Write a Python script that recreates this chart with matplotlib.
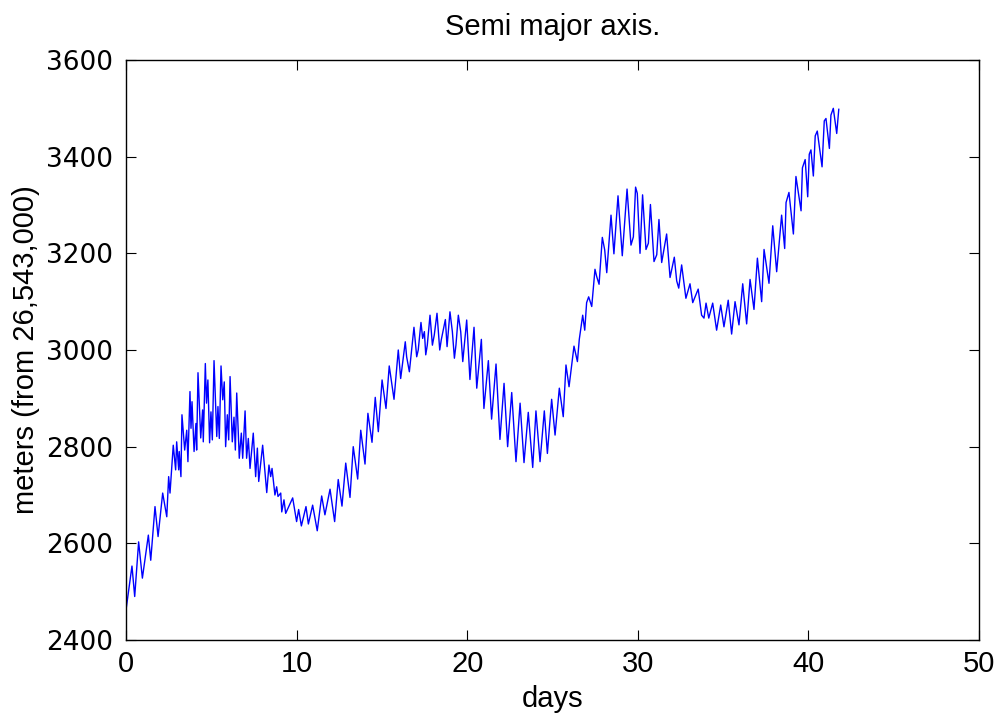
import matplotlib
matplotlib.use("Agg")
import matplotlib.pyplot as plt

# Turning points of the trace (days, meters from 26,543,000)
days_a = [0.00, 0.35, 0.51, 0.74, 0.96, 1.31, 1.45, 1.70, 1.88, 2.15,
          2.39, 2.50, 2.58, 2.77, 2.91, 2.97, 3.09, 3.12, 3.22, 3.28,
          3.44, 3.56, 3.63, 3.75, 3.81, 3.87, 3.99, 4.10, 4.14, 4.22,
          4.38, 4.49, 4.53, 4.65, 4.72, 4.80, 4.90, 4.98, 5.06, 5.16,
          5.32, 5.39, 5.47, 5.57, 5.67, 5.76, 5.84, 5.94, 6.02, 6.10,
          6.23, 6.33, 6.41, 6.49, 6.64, 6.76, 6.84, 6.98, 7.07, 7.17,
          7.27, 7.46, 7.60, 7.70, 7.78, 8.01, 8.25, 8.38, 8.48, 8.56,
          8.73, 8.83, 8.91, 9.07, 9.13, 9.26, 9.36, 9.77, 10.00]
vals_a = [2462, 2553, 2490, 2603, 2528, 2617, 2565, 2676, 2614, 2704,
          2655, 2738, 2704, 2803, 2752, 2810, 2752, 2790, 2738, 2866,
          2793, 2834, 2769, 2914, 2838, 2893, 2790, 2848, 2793, 2953,
          2818, 2876, 2810, 2972, 2890, 2938, 2808, 2872, 2814, 2978,
          2821, 2883, 2817, 2967, 2897, 2934, 2800, 2866, 2814, 2945,
          2810, 2861, 2793, 2911, 2776, 2828, 2776, 2874, 2776, 2817,
          2755, 2828, 2738, 2797, 2728, 2803, 2705, 2762, 2738, 2755,
          2700, 2717, 2697, 2704, 2665, 2690, 2662, 2694, 2645]

days_b = [10.12, 10.28, 10.55, 10.69, 10.94, 11.21, 11.47, 11.66, 11.96, 12.23,
          12.44, 12.66, 12.88, 13.13, 13.32, 13.58, 13.76, 14.01, 14.18, 14.42,
          14.61, 14.79, 15.01, 15.24, 15.43, 15.71, 15.96, 16.10, 16.37, 16.45,
          16.61, 16.88, 17.04, 17.13, 17.29, 17.39, 17.49, 17.57, 17.66, 17.82,
          17.96, 18.07, 18.23, 18.39, 18.48, 18.72, 18.82, 18.99, 19.13, 19.25,
          19.34, 19.48, 19.62, 19.74, 19.97]
vals_b = [2670, 2636, 2676, 2640, 2679, 2626, 2698, 2659, 2712, 2645,
          2732, 2677, 2766, 2695, 2800, 2733, 2834, 2764, 2869, 2809,
          2902, 2831, 2938, 2879, 2967, 2898, 3000, 2941, 3017, 2986,
          2955, 3047, 2986, 3000, 3057, 3024, 3038, 2990, 3010, 3072,
          3010, 3031, 3076, 3000, 3021, 3063, 3007, 3079, 3038, 2983,
          3010, 3072, 3038, 2976, 3062]

days_c = [20.16, 20.40, 20.56, 20.83, 20.98, 21.24, 21.43, 21.69, 21.92, 22.16,
          22.37, 22.61, 22.86, 23.10, 23.33, 23.58, 23.84, 24.03, 24.27, 24.52,
          24.70, 24.95, 25.15, 25.40, 25.63, 25.79, 25.97, 26.10, 26.26, 26.46,
          26.57, 26.77, 26.89, 27.00, 27.12, 27.30, 27.49, 27.59, 27.73, 27.92,
          28.06, 28.18, 28.43, 28.60, 28.84, 29.09, 29.37, 29.60, 29.74, 29.87,
          29.97]
vals_c = [2939, 3047, 2921, 3022, 2879, 2978, 2857, 2971, 2815, 2931,
          2800, 2912, 2769, 2890, 2767, 2871, 2757, 2874, 2769, 2874,
          2786, 2898, 2824, 2921, 2862, 2969, 2924, 2962, 3008, 2976,
          3022, 3072, 3041, 3098, 3110, 3090, 3167, 3152, 3136, 3233,
          3207, 3160, 3279, 3199, 3319, 3195, 3333, 3217, 3234, 3337,
          3324]

days_d = [30.13, 30.28, 30.48, 30.62, 30.74, 30.95, 31.11, 31.24, 31.40, 31.69,
          31.89, 32.14, 32.28, 32.40, 32.57, 32.82, 33.06, 33.22, 33.54, 33.74,
          33.88, 34.00, 34.16, 34.39, 34.62, 34.86, 35.05, 35.30, 35.50, 35.70,
          35.93, 36.15, 36.38, 36.58, 36.81, 37.01, 37.26, 37.40, 37.69, 37.91,
          38.14, 38.43, 38.61, 38.69, 38.86, 39.12, 39.27, 39.57, 39.65, 39.81,
          39.96, 40.05, 40.15, 40.29, 40.40, 40.52, 40.80, 40.93, 41.03, 41.23,
          41.32, 41.46, 41.66, 41.78]
vals_d = [3200, 3321, 3208, 3221, 3301, 3183, 3197, 3270, 3181, 3240,
          3150, 3192, 3143, 3128, 3176, 3107, 3137, 3098, 3126, 3072,
          3066, 3097, 3066, 3097, 3041, 3093, 3048, 3103, 3033, 3100,
          3052, 3137, 3054, 3146, 3084, 3190, 3100, 3208, 3138, 3257,
          3162, 3279, 3210, 3305, 3326, 3240, 3359, 3288, 3377, 3394,
          3317, 3405, 3414, 3360, 3443, 3453, 3379, 3474, 3479, 3417,
          3486, 3500, 3448, 3498]

x_ticks = [0, 10, 20, 30, 40, 50]
y_ticks = [2400, 2600, 2800, 3000, 3200, 3400, 3600]
title_text = "Semi major axis."
x_label = "days"
y_label = "meters (from 26,543,000)"

days = days_a + days_b + days_c + days_d
vals = vals_a + vals_b + vals_c + vals_d

plt.rcParams['font.family'] = ['Liberation Sans', 'DejaVu Sans']

fig = plt.figure(figsize=(10.0, 7.19), dpi=100)
ax = fig.add_axes([0.126, 1 - 640 / 719, 0.853, 580 / 719])
ax.plot(days, vals, color=(0, 0, 1), linewidth=1.0)

ax.set_xlim(0, 50)
ax.set_ylim(2400, 3600)
ax.set_xticks(x_ticks)
ax.set_yticks(y_ticks)
ax.set_xticklabels([str(t) for t in x_ticks], fontsize=21)
ax.set_yticklabels([str(t) for t in y_ticks], fontsize=19, family='DejaVu Sans')
ax.tick_params(direction='in', length=7, width=0.8, top=True, right=True,
               colors='black')
ax.tick_params(axis='x', pad=7)
ax.tick_params(axis='y', pad=9)
for sp in ax.spines.values():
    sp.set_linewidth(1.0)
    sp.set_color('black')

ax.set_title(title_text, fontsize=21, pad=18)
ax.set_xlabel(x_label, fontsize=21, labelpad=5)
ax.set_ylabel(y_label, fontsize=21, labelpad=5)

fig.savefig("out.png", dpi=100)
